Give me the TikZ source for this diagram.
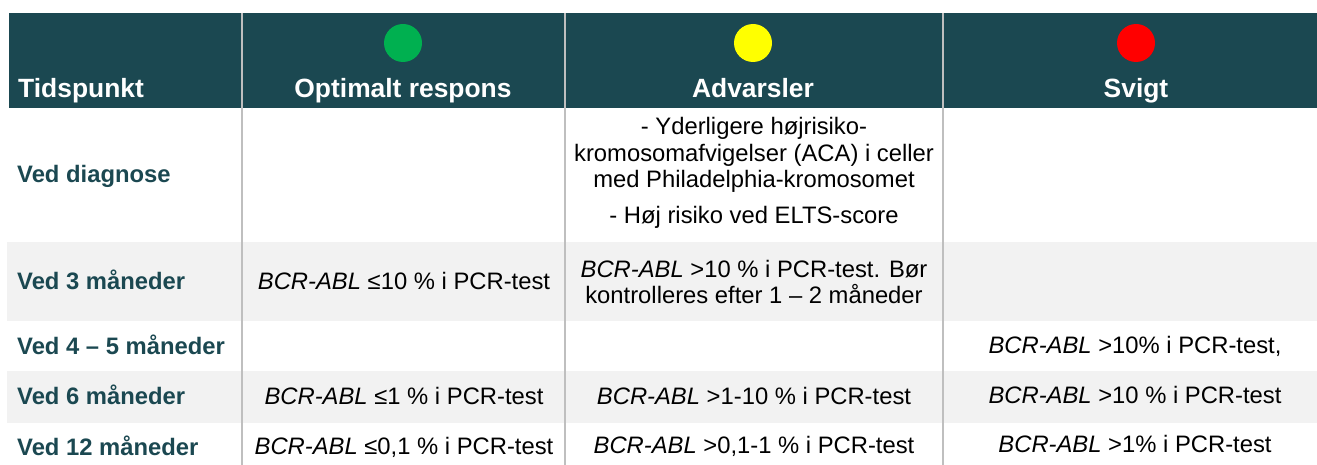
\documentclass[tikz,border=0pt]{standalone}
\usepackage{fontspec}
\setmainfont{Liberation Sans}
\definecolor{teal}{HTML}{1B4851}
\definecolor{rowgray}{HTML}{F2F2F2}
\definecolor{sepgray}{HTML}{BFBFBF}
\definecolor{okgreen}{HTML}{00B050}
\definecolor{warnyellow}{HTML}{FFFF00}
\definecolor{failred}{HTML}{FF0000}
\tikzset{
  hdr/.style={inner sep=0pt, anchor=base, text=white, font=\fontsize{26.4}{30}\selectfont\bfseries},
  rowlabel/.style={inner sep=0pt, anchor=base west, text=teal, font=\fontsize{23.8}{27}\selectfont\bfseries},
  cell/.style={inner sep=0pt, anchor=base, text=black, font=\fontsize{23.8}{27}\selectfont},
  dot/.style={circle, inner sep=0pt, minimum size=38pt},
  sep/.style={draw=sepgray, line width=1.5pt}
}
\newcommand{\bcr}{\textit{BCR-ABL}}
\begin{document}
\begin{tikzpicture}[x=1pt,y=-1pt]
\useasboundingbox (0,0) rectangle (1317,465);
% backgrounds
\fill[teal] (9,13) rectangle (1317,108);
\fill[rowgray] (7,242) rectangle (1317,321);
\fill[rowgray] (7,371) rectangle (1317,423);
% column separators
\coordinate (s1t) at (242,13); \coordinate (s1b) at (242,465);
\coordinate (s2t) at (565,13); \coordinate (s2b) at (565,465);
\coordinate (s3t) at (943,13); \coordinate (s3b) at (943,465);
\draw[sep] (s1t) -- (s1b);
\draw[sep] (s2t) -- (s2b);
\draw[sep] (s3t) -- (s3b);
% header
\node[dot, fill=okgreen] (cg) at (403,43) {};
\node[dot, fill=warnyellow] (cy) at (753,43) {};
\node[dot, fill=failred] (cr) at (1136,43) {};
\node[hdr, anchor=base west] (h0) at (18,98) {Tidspunkt};
\node[hdr] (h1) at (403,98) {Optimalt respons};
\node[hdr] (h2) at (753,98) {Advarsler};
\node[hdr] (h3) at (1136,98) {Svigt};
% row labels
\node[rowlabel] (r1) at (17,183) {Ved diagnose};
\node[rowlabel] (r2) at (17,289) {Ved 3 måneder};
\node[rowlabel] (r3) at (17,354) {Ved 4 – 5 måneder};
\node[rowlabel] (r4) at (17,404) {Ved 6 måneder};
\node[rowlabel] (r5) at (17,455) {Ved 12 måneder};
% row 1
\node[cell] (a1a) at (754,135) {- Yderligere højrisiko-};
\node[cell] (a1b) at (754,161.5) {kromosomafvigelser (ACA) i celler};
\node[cell] (a1c) at (754,188) {med Philadelphia-kromosomet};
\node[cell] (a1d) at (754,223) {- Høj risiko ved ELTS-score};
% row 2
\node[cell] (o2) at (404,289) {\bcr{} ≤10 \% i PCR-test};
\node[cell] (a2a) at (754,277) {\bcr{} >10 \% i PCR-test. Bør};
\node[cell] (a2b) at (754,303) {kontrolleres efter 1 – 2 måneder};
% row 3
\node[cell] (f3) at (1135,353) {\bcr{} >10\% i PCR-test,};
% row 4
\node[cell] (o4) at (404,404) {\bcr{} ≤1 \% i PCR-test};
\node[cell] (a4) at (754,404) {\bcr{} >1-10 \% i PCR-test};
\node[cell] (f4) at (1135,403) {\bcr{} >10 \% i PCR-test};
% row 5
\node[cell] (o5) at (404,454) {\bcr{} ≤0,1 \% i PCR-test};
\node[cell] (a5) at (754,453) {\bcr{} >0,1-1 \% i PCR-test};
\node[cell] (f5) at (1135,452) {\bcr{} >1\% i PCR-test};
\end{tikzpicture}
\end{document}
